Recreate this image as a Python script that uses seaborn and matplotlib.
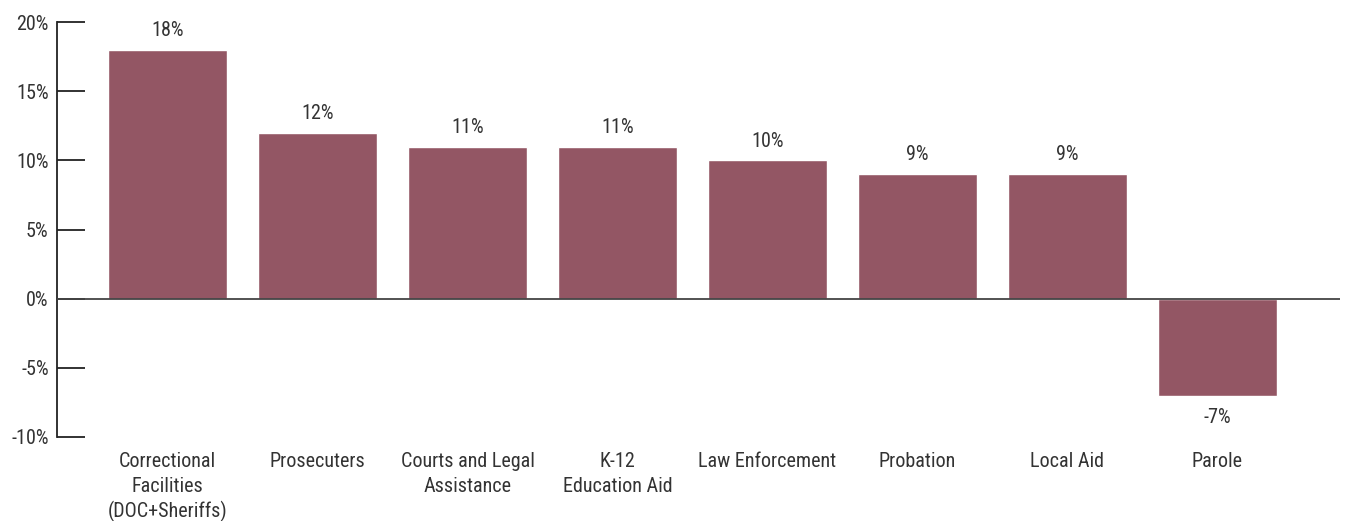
import matplotlib
matplotlib.use("Agg")
import matplotlib.pyplot as plt
import seaborn as sns
import pandas as pd
from matplotlib.ticker import FuncFormatter
from matplotlib import font_manager

categories = ["Correctional\nFacilities\n(DOC+Sheriffs)", "Prosecuters", "Courts and Legal\nAssistance",
              "K-12\nEducation Aid", "Law Enforcement", "Probation", "Local Aid", "Parole"]
values = [18, 12, 11, 11, 10, 9, 9, -7]
yticks = [-10, -5, 0, 5, 10, 15, 20]

sns.set_theme(style="white")

# choose a condensed font if one is installed
names = {f.name for f in font_manager.fontManager.ttflist}
stretch = "normal"
family = "DejaVu Sans"
for cand in ["Liberation Sans Narrow", "Roboto Condensed", "Open Sans Condensed", "DejaVu Sans Condensed"]:
    if cand in names:
        family = cand
        break
else:
    if any(f.name == "DejaVu Sans" and f.stretch in ("condensed", 700, "semi-condensed")
           for f in font_manager.fontManager.ttflist):
        stretch = "condensed"
plt.rcParams['font.family'] = [family, 'DejaVu Sans']
plt.rcParams['font.stretch'] = stretch

text_color = "#333333"
bar_color = "#935664"
fs = 14.5

df = pd.DataFrame({"cat": categories, "val": values})

fig = plt.figure(figsize=(13.53, 5.21), dpi=100)
ax = fig.add_axes([57/1353, (521-437)/521, (1340-57)/1353, 415/521])
sns.barplot(data=df, x="cat", y="val", color=bar_color, saturation=1, width=0.79, ax=ax)

ax.set_xlim(-0.737, 7.817)
ax.set_ylim(-10, 20)
ax.set_yticks(yticks)
ax.yaxis.set_major_formatter(FuncFormatter(lambda v, p: f"{int(v)}%"))
ax.tick_params(axis='y', direction='in', length=20, width=1.3, color="#222222",
               labelsize=fs, labelcolor=text_color, pad=6, left=True)
ax.tick_params(axis='x', length=0, labelsize=fs, labelcolor=text_color, pad=11)
ax.set_xlabel("")
ax.set_ylabel("")
for s in ["top", "right", "bottom"]:
    ax.spines[s].set_visible(False)
ax.spines["left"].set_color("#222222")
ax.spines["left"].set_linewidth(1.3)
ax.axhline(0, color="#444444", linewidth=1.3, zorder=3)

for i, v in enumerate(values):
    if v >= 0:
        ax.text(i, v + 0.7, f"{v}%", ha="center", va="bottom", fontsize=fs, color=text_color)
    else:
        ax.text(i, v - 0.9, f"{v}%", ha="center", va="top", fontsize=fs, color=text_color)

for lbl in ax.get_xticklabels():
    lbl.set_linespacing(1.35)

fig.savefig("out.png", dpi=100)
